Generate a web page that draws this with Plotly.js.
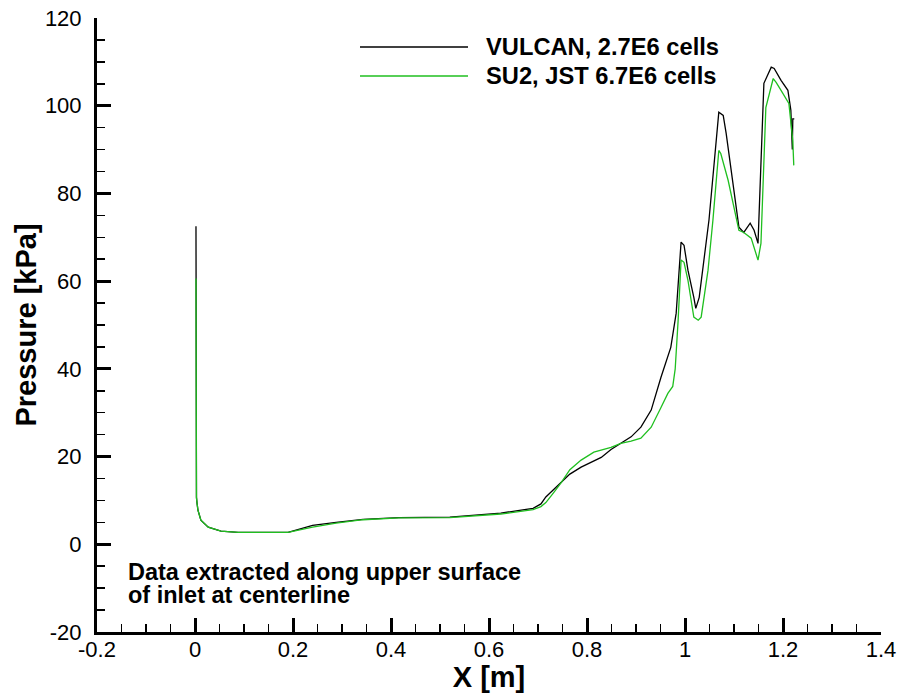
<!DOCTYPE html>
<html>
<head>
<meta charset="utf-8">
<script src="https://cdn.plot.ly/plotly-3.0.1.min.js"></script>
<style>
  html, body { margin: 0; padding: 0; background: #fff; }
  #chart { width: 901px; height: 693px; }
</style>
</head>
<body>
<div id="chart"></div>
<script>
// Wall pressure along the upper surface of the inlet, centerline cut
const vulcanX = [0.002, 0.002, 0.003, 0.004, 0.006, 0.012, 0.027, 0.053, 0.088, 0.19,
  0.24, 0.288, 0.343, 0.416, 0.52, 0.624, 0.69, 0.706, 0.716, 0.732, 0.747, 0.765, 0.788,
  0.81, 0.829, 0.849, 0.869, 0.89, 0.91, 0.931, 0.951, 0.971, 0.982, 0.988, 0.992, 0.998,
  1.006, 1.018, 1.022, 1.029, 1.039, 1.049, 1.069, 1.078, 1.084, 1.11, 1.12, 1.133, 1.141,
  1.149, 1.161, 1.176, 1.182, 1.196, 1.21, 1.216, 1.219, 1.22, 1.223];
const vulcanP = [72.5, 40, 10.7, 9.5, 7.8, 5.5, 3.9, 3.0, 2.7, 2.7,
  4.3, 5.0, 5.7, 6.1, 6.2, 7.1, 8.2, 9.2, 10.8, 12.5, 14.2, 16.0, 17.6,
  18.8, 19.8, 21.6, 23.0, 24.5, 26.7, 30.6, 38.1, 44.9, 52.7, 62.5, 68.9, 68.2,
  62.5, 56.3, 53.8, 56.3, 65.0, 74.0, 98.5, 97.8, 93.7, 72.3, 71.1, 73.2, 71.6,
  68.6, 105.1, 108.8, 108.5, 105.8, 103.5, 99.0, 90.0, 97.0, 97.0];

const su2X = [0.002, 0.002, 0.003, 0.004, 0.006, 0.012, 0.027, 0.053, 0.088, 0.19,
  0.24, 0.288, 0.343, 0.416, 0.52, 0.624, 0.69, 0.706, 0.716, 0.732, 0.747, 0.765, 0.788,
  0.814, 0.849, 0.869, 0.89, 0.91, 0.931, 0.951, 0.965, 0.975, 0.98, 0.986, 0.992, 0.998,
  1.006, 1.018, 1.027, 1.033, 1.047, 1.057, 1.069, 1.073, 1.088, 1.11, 1.12, 1.135, 1.149,
  1.155, 1.165, 1.18, 1.186, 1.196, 1.212, 1.22, 1.222];
const su2P = [60.6, 40, 10.7, 9.5, 7.8, 5.5, 3.9, 3.0, 2.7, 2.7,
  3.9, 4.8, 5.6, 6.0, 6.1, 6.9, 7.9, 8.6, 9.5, 11.8, 14.0, 17.0, 19.2,
  21.0, 22.1, 23.0, 23.5, 24.2, 26.7, 31.2, 34.4, 36.0, 40.0, 51.1, 64.8, 64.3,
  60.2, 51.8, 51.1, 51.8, 62.5, 73.9, 89.8, 89.1, 83.0, 71.6, 71.1, 69.8, 64.8,
  68.6, 99.6, 106.2, 105.3, 103.5, 100.5, 92.0, 86.4];

const seriesNames = ['VULCAN, 2.7E6 cells', 'SU2, JST 6.7E6 cells'];
const seriesColors = ['#000000', '#1fbf1f'];
const noteLines = ['Data extracted along upper surface', 'of inlet at centerline'];

// Tick labels use a plain hyphen for negatives
const xTickVals = [-0.2, 0, 0.2, 0.4, 0.6, 0.8, 1, 1.2, 1.4];
const xTickText = ['-0.2', '0', '0.2', '0.4', '0.6', '0.8', '1', '1.2', '1.4'];
const yTickVals = [-20, 0, 20, 40, 60, 80, 100, 120];
const yTickText = ['-20', '0', '20', '40', '60', '80', '100', '120'];

const xRange = [-0.2, 1.4];
const yRange = [-20, 120];

const W = 901, H = 693;
const M = { l: 97, r: 20, t: 18, b: 61 };
const plotW = W - M.l - M.r, plotH = H - M.t - M.b;
const px = v => (v - M.l) / plotW;        // page pixel -> paper x
const py = v => (H - M.b - v) / plotH;    // page pixel -> paper y

const font = 'Arial, "Liberation Sans", Helvetica, sans-serif';

const traces = [
  { x: vulcanX, y: vulcanP, name: seriesNames[0], mode: 'lines',
    line: { color: seriesColors[0], width: 1.3 } },
  { x: su2X, y: su2P, name: seriesNames[1], mode: 'lines',
    line: { color: seriesColors[1], width: 1.3 } }
];

// Hand-drawn legend: long sample lines with bold labels
const shapes = [], annotations = [];
const legendY = [47, 76];
seriesNames.forEach((n, i) => {
  shapes.push({ type: 'line', xref: 'paper', yref: 'paper',
    x0: px(360), x1: px(468), y0: py(legendY[i]), y1: py(legendY[i]),
    line: { color: seriesColors[i], width: 1.5 } });
  annotations.push({ xref: 'paper', yref: 'paper', x: px(484), y: py(legendY[i]),
    xanchor: 'left', yanchor: 'middle', showarrow: false, text: '<b>' + n + '</b>',
    font: { family: font, size: 23.7, color: '#000' } });
});
const noteY = [572, 595];
noteLines.forEach((t, i) => {
  annotations.push({ xref: 'paper', yref: 'paper', x: px(126), y: py(noteY[i]),
    xanchor: 'left', yanchor: 'middle', showarrow: false, text: '<b>' + t + '</b>',
    font: { family: font, size: 23.5, color: '#000' } });
});

const axisCommon = {
  showline: true, linecolor: '#000', linewidth: 3, mirror: false,
  showgrid: false, zeroline: false, tickmode: 'array',
  ticks: 'inside', ticklen: 14, tickwidth: 3, tickcolor: '#000',
  tickfont: { family: font, size: 22, color: '#000' },
  fixedrange: true
};

const layout = {
  width: W, height: H,
  margin: M,
  paper_bgcolor: '#fff', plot_bgcolor: '#fff',
  showlegend: false,
  xaxis: Object.assign({}, axisCommon, {
    range: xRange, tickvals: xTickVals, ticktext: xTickText,
    minor: { dtick: 0.05, tick0: 0, ticks: 'inside', ticklen: 8, tickwidth: 1.5, tickcolor: '#000' },
    ticklabelstandoff: -4,
    title: { text: '<b>X [m]</b>', font: { family: font, size: 29, color: '#000' }, standoff: 0 }
  }),
  yaxis: Object.assign({}, axisCommon, {
    range: yRange, tickvals: yTickVals, ticktext: yTickText,
    minor: { dtick: 5, tick0: 0, ticks: 'inside', ticklen: 8, tickwidth: 1.5, tickcolor: '#000' },
    ticklabelstandoff: 8,
    title: { text: '<b>Pressure [kPa]</b>', font: { family: font, size: 29, color: '#000' }, standoff: 0 }
  }),
  shapes: shapes,
  annotations: annotations
};

Plotly.newPlot('chart', traces, layout, { displayModeBar: false, staticPlot: true });
</script>
</body>
</html>
